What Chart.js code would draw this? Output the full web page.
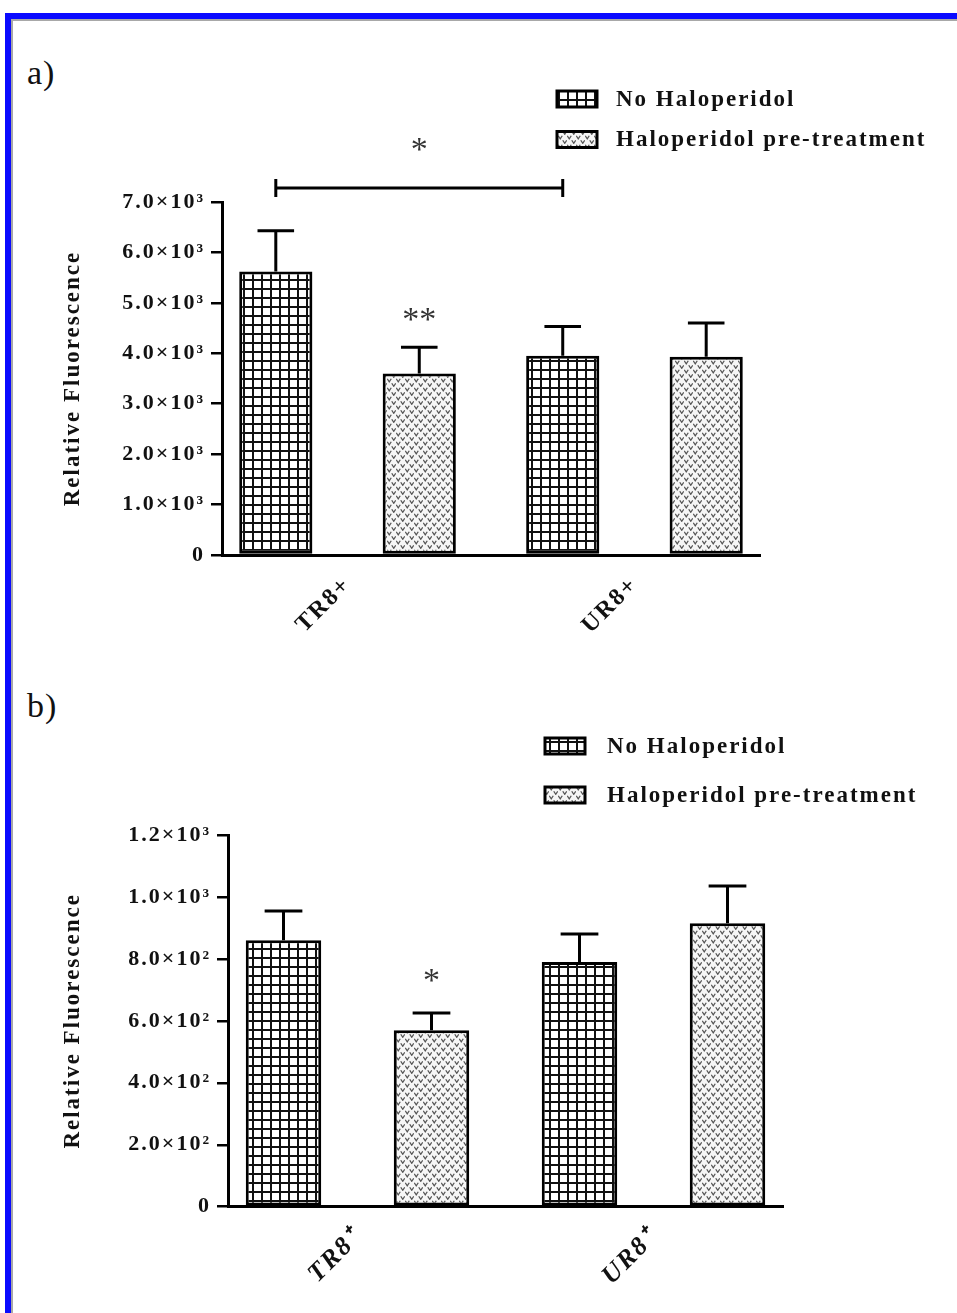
<!DOCTYPE html>
<html lang="en">
<head>
<meta charset="UTF-8">
<title>Relative Fluorescence with and without Haloperidol</title>
<script src="https://cdn.jsdelivr.net/npm/chart.js@4"></script>
<style>
    html, body { margin: 0; padding: 0; background: #fff; }
    body {
        width: 957px;
        height: 1313px;
        position: relative;
        overflow: hidden;
        font-family: 'Liberation Serif', 'Times New Roman', serif;
    }
    .frame {
        position: absolute;
        left: 5px;
        top: 13px;
        width: 1000px;
        height: 1400px;
        border: 6px solid #0a0aff;
        box-sizing: border-box;
    }
    .frame-inner {
        position: absolute;
        left: 0; top: 0; right: 0; bottom: 0;
        border: 2px solid #a8a8a8;
    }
    .panel-label {
        position: absolute;
        left: 27px;
        font-size: 34px;
        letter-spacing: 1px;
        color: #111;
        line-height: 1;
    }
    canvas { position: absolute; left: 0; }
</style>
</head>
<body>
<div class="frame"><div class="frame-inner"></div></div>
<div class="panel-label" style="top:56px">a)</div>
<div class="panel-label" style="top:689px">b)</div>
<canvas id="chartA" width="957" height="660" style="top:0"></canvas>
<canvas id="chartB" width="957" height="653" style="top:660px"></canvas>
<script>
// categories and series
const groupsA = ['TR8+', 'UR8+'];
const groupsB = ['TR8\u207A', 'UR8\u207A'];
const seriesNames = ['No Haloperidol', 'Haloperidol pre-treatment'];

// panel a) values (mean and upper error)
const noHaloA = [5620, 3950];
const noHaloErrA = [810, 580];
const haloA = [3600, 3930];
const haloErrA = [520, 670];
const yTickLabelsA = ['0', '1.0×10³', '2.0×10³', '3.0×10³', '4.0×10³', '5.0×10³', '6.0×10³', '7.0×10³'];

// panel b) values
const noHaloB = [860, 790];
const noHaloErrB = [95, 90];
const haloB = [570, 915];
const haloErrB = [55, 120];
const yTickLabelsB = ['0', '2.0×10²', '4.0×10²', '6.0×10²', '8.0×10²', '1.0×10³', '1.2×10³'];

// significance marks (in data units)
const starsA = [{ dataset: 1, index: 0, text: '**', value: 4800 }];
const bracketA = { from: [0, 0], to: [0, 1], value: 7280, text: '*', textValue: 8170 };
const starsB = [{ dataset: 1, index: 0, text: '*', value: 750 }];

const SERIF = "'Liberation Serif', 'Times New Roman', serif";

function gridFill() {
    const c = document.createElement('canvas');
    c.width = 9; c.height = 9;
    const g = c.getContext('2d');
    g.fillStyle = '#fff';
    g.fillRect(0, 0, 9, 9);
    g.fillStyle = '#111';
    g.fillRect(0, 0, 9, 2);
    g.fillRect(0, 0, 2, 9);
    return g.createPattern(c, 'repeat');
}

function speckFill() {
    const c = document.createElement('canvas');
    c.width = 9; c.height = 9;
    const g = c.getContext('2d');
    g.fillStyle = '#f6f6f6';
    g.fillRect(0, 0, 9, 9);
    g.strokeStyle = '#555';
    g.lineWidth = 1.3;
    const v = (x, y) => {
        g.beginPath();
        g.moveTo(x - 2, y - 1.5);
        g.lineTo(x, y + 1.5);
        g.lineTo(x + 2, y - 1.5);
        g.stroke();
    };
    v(2.25, 2.25);
    v(6.75, 6.75);
    return g.createPattern(c, 'repeat');
}

const fills = [gridFill(), speckFill()];

function drawStar(ctx, text, x, yc) {
    ctx.save();
    ctx.font = '34px ' + SERIF;
    ctx.letterSpacing = '0px';
    ctx.fillStyle = '#333';
    ctx.textAlign = 'center';
    ctx.textBaseline = 'alphabetic';
    ctx.fillText(text, x, yc + 17);
    ctx.restore();
}

// error bars, legend and significance marks
const extras = {
    id: 'extras',
    beforeUpdate(chart) { chart.ctx.letterSpacing = '2px'; },
    beforeDraw(chart) { chart.ctx.letterSpacing = '2px'; },
    afterDatasetsDraw(chart, args, o) {
        const ctx = chart.ctx;
        const yScale = chart.scales.y;
        ctx.save();
        ctx.strokeStyle = '#000';
        ctx.lineWidth = 3;
        o.errors.forEach((errs, d) => {
            chart.getDatasetMeta(d).data.forEach((bar, i) => {
                const v = chart.data.datasets[d].data[i].y;
                const top = yScale.getPixelForValue(v + errs[i]);
                const half = bar.width * 0.25;
                ctx.beginPath();
                ctx.moveTo(bar.x, bar.y);
                ctx.lineTo(bar.x, top);
                ctx.moveTo(bar.x - half, top);
                ctx.lineTo(bar.x + half, top);
                ctx.stroke();
            });
        });
        ctx.restore();
    },
    afterDraw(chart, args, o) {
        const ctx = chart.ctx;
        const yScale = chart.scales.y;
        const lg = o.legend;

        ctx.save();
        ctx.font = 'bold 23px ' + SERIF;
        ctx.letterSpacing = '2px';
        ctx.textBaseline = 'middle';
        ctx.textAlign = 'left';
        chart.data.datasets.forEach((ds, i) => {
            const y = lg.y + i * lg.gap;
            ctx.fillStyle = ds.backgroundColor;
            ctx.fillRect(lg.x, y, 40, 16);
            ctx.strokeStyle = '#000';
            ctx.lineWidth = 3;
            ctx.strokeRect(lg.x, y, 40, 16);
            ctx.fillStyle = '#111';
            ctx.fillText(ds.label, lg.x + lg.textOffset, y + 9);
        });
        ctx.restore();

        (o.stars || []).forEach(s => {
            const bar = chart.getDatasetMeta(s.dataset).data[s.index];
            drawStar(ctx, s.text, bar.x, yScale.getPixelForValue(s.value));
        });

        if (o.bracket) {
            const b = o.bracket;
            const x1 = chart.getDatasetMeta(b.from[0]).data[b.from[1]].x;
            const x2 = chart.getDatasetMeta(b.to[0]).data[b.to[1]].x;
            const y = yScale.getPixelForValue(b.value);
            ctx.save();
            ctx.strokeStyle = '#000';
            ctx.lineWidth = 3;
            ctx.beginPath();
            ctx.moveTo(x1, y); ctx.lineTo(x2, y);
            ctx.moveTo(x1, y - 9); ctx.lineTo(x1, y + 9);
            ctx.moveTo(x2, y - 9); ctx.lineTo(x2, y + 9);
            ctx.stroke();
            ctx.restore();
            drawStar(ctx, b.text, (x1 + x2) / 2, yScale.getPixelForValue(b.textValue));
        }
    }
};
Chart.register(extras);

function buildChart(id, p) {
    const datasets = [p.noHalo, p.halo].map((vals, s) => ({
        label: seriesNames[s],
        data: vals.map((v, i) => ({ x: i * 2 + s, y: v })),
        backgroundColor: fills[s],
        borderColor: '#000',
        borderWidth: 3,
        borderSkipped: false,
        grouped: false,
        barPercentage: 0.51,
        categoryPercentage: 1
    }));

    return new Chart(document.getElementById(id), {
        type: 'bar',
        data: { datasets },
        options: {
            responsive: false,
            animation: false,
            events: [],
            devicePixelRatio: 1,
            layout: { padding: { left: 0, top: p.top, right: p.right, bottom: 0 } },
            plugins: {
                legend: { display: false },
                tooltip: { enabled: false },
                extras: {
                    errors: [p.noHaloErr, p.haloErr],
                    legend: p.legend,
                    stars: p.stars,
                    bracket: p.bracket
                }
            },
            scales: {
                x: {
                    type: 'linear',
                    offset: false,
                    min: -0.375,
                    max: 3.375,
                    grid: { display: false },
                    border: { display: true, color: '#000', width: 3 },
                    afterBuildTicks: s => { s.ticks = p.groups.map((g, i) => ({ value: i * 2 + 0.5 })); },
                    afterFit: s => { s.height = p.xAxisHeight; },
                    ticks: {
                        autoSkip: false,
                        minRotation: 45,
                        maxRotation: 45,
                        padding: 8,
                        color: '#111',
                        font: p.xFont,
                        callback: (v, i) => p.groups[i]
                    }
                },
                y: {
                    min: 0,
                    max: p.yMax,
                    afterFit: s => { s.width = p.yAxisWidth; },
                    grid: { drawOnChartArea: false, drawTicks: true, tickLength: 11, lineWidth: 2.5, color: '#000' },
                    border: { display: true, color: '#000', width: 3 },
                    ticks: {
                        stepSize: p.yStep,
                        padding: 6,
                        color: '#111',
                        font: { family: SERIF, size: 22, weight: 'bold' },
                        callback: (v, i) => p.yLabels[i]
                    },
                    title: {
                        display: true,
                        text: 'Relative Fluorescence',
                        color: '#111',
                        font: { family: SERIF, size: 23, weight: 'bold' },
                        padding: { top: 59, bottom: 0 }
                    }
                }
            }
        }
    });
}

buildChart('chartA', {
    groups: groupsA,
    noHalo: noHaloA, noHaloErr: noHaloErrA,
    halo: haloA, haloErr: haloErrA,
    yMax: 7000, yStep: 1000, yLabels: yTickLabelsA,
    top: 202, right: 197, yAxisWidth: 222, xAxisHeight: 105,
    xFont: { family: SERIF, size: 24, weight: 'bold' },
    legend: { x: 557, y: 91, gap: 40.5, textOffset: 59 },
    stars: starsA,
    bracket: bracketA
});

buildChart('chartB', {
    groups: groupsB,
    noHalo: noHaloB, noHaloErr: noHaloErrB,
    halo: haloB, haloErr: haloErrB,
    yMax: 1200, yStep: 200, yLabels: yTickLabelsB,
    top: 175, right: 174, yAxisWidth: 228, xAxisHeight: 106.3,
    xFont: { family: SERIF, size: 26, weight: 'bold', style: 'italic' },
    legend: { x: 545, y: 78, gap: 49, textOffset: 62 },
    stars: starsB,
    bracket: null
});
</script>
</body>
</html>
